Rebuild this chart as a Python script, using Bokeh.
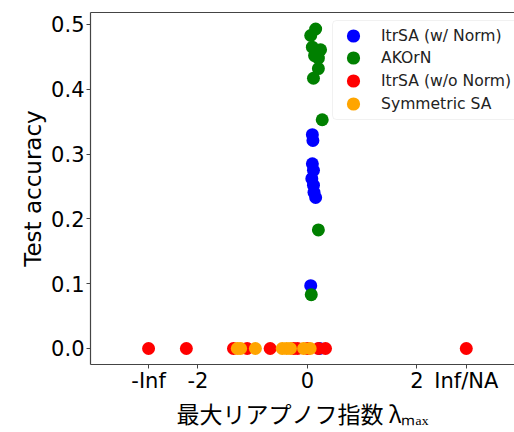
from bokeh.plotting import figure
from bokeh.models import Range1d, FixedTicker, Legend, LegendItem, BoxAnnotation, LinearAxis
from bokeh.embed import file_html
from bokeh.resources import INLINE

# positions used on the x axis for the non-finite exponents
NEG_INF_POS = -2.9
POS_INF_POS = 2.9

x_ticks = [NEG_INF_POS, -2, 0, 2, POS_INF_POS]
x_tick_labels = ["-Inf", "-2", "0", "2", "Inf/NA"]
y_ticks = [0.0, 0.1, 0.2, 0.3, 0.4, 0.5]
y_tick_labels = ["0.0", "0.1", "0.2", "0.3", "0.4", "0.5"]

# ItrSA (w/ Norm)
norm_x = [0.09, 0.10, 0.09, 0.11, 0.08, 0.11, 0.12, 0.15, 0.06, 0.22]
norm_y = [0.330, 0.321, 0.285, 0.275, 0.262, 0.252, 0.241, 0.233, 0.097, 0.0]

# AKOrN
akorn_x = [0.15, 0.06, 0.09, 0.24, 0.13, 0.20, 0.20, 0.11, 0.27, 0.20, 0.07]
akorn_y = [0.493, 0.483, 0.465, 0.461, 0.452, 0.448, 0.432, 0.417, 0.353, 0.183, 0.083]

# ItrSA (w/o Norm)
nonorm_x = [NEG_INF_POS, -2.21, -1.35, -1.10, -0.68, -0.25, -0.18, 0.0, 0.20, 0.33, POS_INF_POS]
nonorm_y = [0.0, 0.0, 0.0, 0.0, 0.0, 0.0, 0.0, 0.0, 0.0, 0.0, 0.0]

# Symmetric SA
sym_x = [-1.28, -1.22, -0.95, -0.46, -0.38, -0.31, -0.07, 0.05]
sym_y = [0.0, 0.0, 0.0, 0.0, 0.0, 0.0, 0.0, 0.0]

series_names = ["ItrSA (w/ Norm)", "AKOrN", "ItrSA (w/o Norm)", "Symmetric SA"]
series_colors = ["blue", "green", "red", "orange"]

p = figure(width=514, height=432, output_backend="svg", toolbar_location=None,
           x_range=Range1d(-3.96, 3.78), y_range=Range1d(-0.0247, 0.5185),
           min_border_left=90, min_border_top=12, min_border_right=0,
           min_border_bottom=68)

p.grid.visible = False
p.outline_line_color = None
p.background_fill_color = "white"
p.border_fill_color = "white"

renderers = []
for xs, ys, c in zip([norm_x, akorn_x, nonorm_x, sym_x],
                     [norm_y, akorn_y, nonorm_y, sym_y], series_colors):
    r = p.scatter(xs, ys, size=13, fill_color=c, line_color=None, marker="circle")
    renderers.append(r)

p.xaxis.ticker = FixedTicker(ticks=x_ticks)
p.xaxis.major_label_overrides = {t: l for t, l in zip(x_ticks, x_tick_labels)}
p.yaxis.ticker = FixedTicker(ticks=y_ticks)
p.yaxis.major_label_overrides = {t: l for t, l in zip(y_ticks, y_tick_labels)}

for ax in (p.xaxis[0], p.yaxis[0]):
    ax.axis_line_color = "#444444"
    ax.axis_line_width = 1.2
    ax.major_tick_line_color = "#444444"
    ax.major_tick_out = 4
    ax.major_tick_in = 0
    ax.minor_tick_line_color = None
    ax.major_label_text_font = "DejaVu Sans"
    ax.major_label_text_font_size = "21px"
    ax.major_label_text_color = "black"
    ax.axis_label_text_font_style = "normal"
    ax.axis_label_text_color = "black"

p.xaxis.major_label_standoff = 0
p.yaxis.major_label_standoff = 2

p.yaxis.axis_label = "Test accuracy"
p.yaxis.axis_label_text_font = "DejaVu Sans"
p.yaxis.axis_label_text_font_size = "23px"
p.yaxis.axis_label_standoff = 2

p.xaxis.axis_label = "最大リアプノフ指数 λₘₐₓ"
p.xaxis.axis_label_text_font = "Noto Sans CJK JP"
p.xaxis.axis_label_text_font_size = "23px"
p.xaxis.axis_label_standoff = 0

# top spine (the right spine lies outside the picture)
top_spine = LinearAxis(ticker=FixedTicker(ticks=[]), axis_line_color="#444444",
                       axis_line_width=1.2, major_tick_line_color=None,
                       minor_tick_line_color=None)
p.add_layout(top_spine, "above")

# legend frame (matplotlib-style rounded box)
legend_box = BoxAnnotation(left=242, right=450, bottom=245, top=344,
                           left_units="screen", right_units="screen",
                           bottom_units="screen", top_units="screen",
                           fill_color="white", fill_alpha=0.85,
                           line_color="#d0d0d0", line_width=1, border_radius=4)
p.add_layout(legend_box)

# one legend row per series so the markers can be as large as in the plot
row_offsets = [312, 290, 267, 244]
for n, r, yoff in zip(series_names, renderers, row_offsets):
    lg = Legend(items=[LegendItem(label=n, renderers=[r])], location=(242, yoff))
    lg.label_text_font = "DejaVu Sans"
    lg.label_text_font_size = "15.6px"
    lg.label_text_color = "#222222"
    lg.label_standoff = 7
    lg.glyph_width = 42
    lg.glyph_height = 33
    lg.label_height = 20
    lg.padding = 0
    lg.margin = 0
    lg.border_line_color = None
    lg.background_fill_alpha = 0
    p.add_layout(lg)

open("out.html", "w").write(file_html(p, INLINE))
